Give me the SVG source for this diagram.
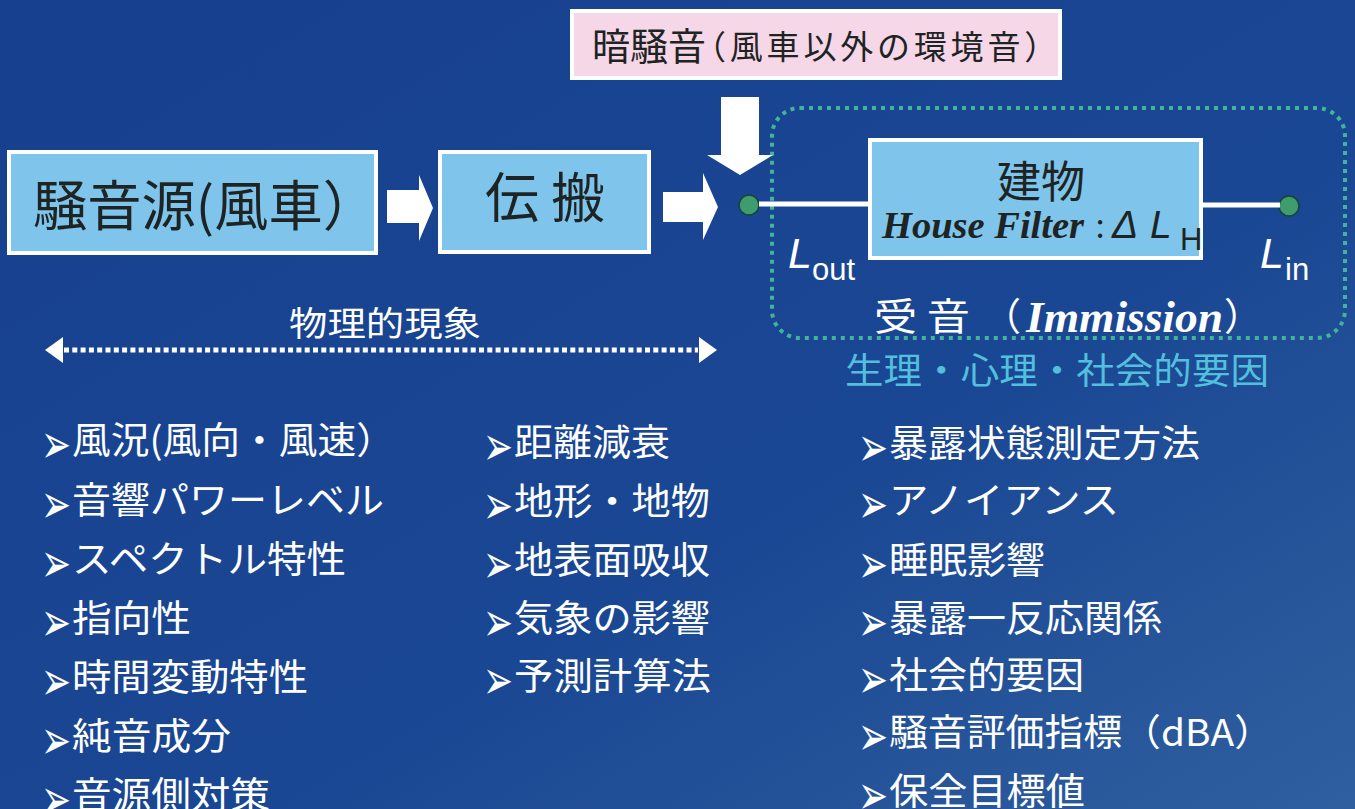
<svg xmlns="http://www.w3.org/2000/svg" width="1355" height="809" viewBox="0 0 1355 809">
<defs>
<linearGradient id="bg" x1="0" y1="0" x2="1" y2="1">
<stop offset="0" stop-color="#17408e"/>
<stop offset="0.6" stop-color="#1a4793"/>
<stop offset="1" stop-color="#2f5f9f"/>
</linearGradient>
<style>
.box{fill:#7fc4ea;stroke:#ffffff;stroke-width:4}
.pink{fill:#f6d7e7;stroke:#ffffff;stroke-width:4}
.jp{font-family:"Noto Sans CJK JP","Noto Sans",sans-serif}
.dark{fill:#1e2424}
.wt{fill:#ffffff}
.li{font-family:"Noto Sans CJK JP","Noto Sans",sans-serif;font-size:37px;fill:#ffffff}
.bul{font-family:"DejaVu Sans",sans-serif;font-size:46px;fill:#ffffff}
.arr{fill:#ffffff}
.dot{fill:#3f9d6d;stroke:#17443a;stroke-width:1.5}
.ln{stroke:#ffffff;stroke-width:5;fill:none}
.it{font-family:"Liberation Sans",Arial,sans-serif;font-style:italic}
.sans{font-family:"Liberation Sans",Arial,sans-serif}
.serif{font-family:"Liberation Serif","Times New Roman",serif}
</style>
</defs>
<rect x="0" y="0" width="1355" height="809" fill="url(#bg)"/>

<g id="background-noise">
<rect class="pink" x="572" y="11" width="488" height="67"/>
<text class="jp dark" x="592" y="60" font-size="38">暗騒音<tspan dx="-13" y="59" font-size="33" letter-spacing="3.8">（風車以外の環境音）</tspan></text>
</g>

<g id="reception-area">
<rect x="772" y="108" width="573" height="230" rx="28" ry="28" fill="none" stroke="#43b39c" stroke-width="4" stroke-dasharray="4 5"/>
</g>

<g id="noise-source">
<rect class="box" x="9" y="152" width="367" height="101"/>
<text class="jp dark" x="33" y="226" font-size="54" textLength="344" lengthAdjust="spacingAndGlyphs">騒音源(風車）</text>
</g>

<g id="propagation">
<rect class="box" x="440" y="152" width="209" height="100"/>
<text class="jp dark" x="485" y="218" font-size="54" textLength="120" lengthAdjust="spacingAndGlyphs">伝 搬</text>
</g>

<g id="building">
<rect class="box" x="870" y="140" width="331" height="118"/>
<text class="jp dark" x="997" y="198" font-size="44">建物</text>
<text class="serif dark" x="882" y="238" font-size="37" font-weight="bold" font-style="italic" textLength="202" lengthAdjust="spacingAndGlyphs">House Filter</text>
<text class="serif dark" x="1095" y="238" font-size="37">:</text>
<text class="it dark" x="1112" y="238" font-size="39">Δ</text>
<text class="it dark" x="1150" y="238" font-size="39">L</text>
<text class="sans dark" x="1180" y="250" font-size="31">H</text>
</g>

<g id="level-out">
<circle class="dot" cx="749" cy="205" r="10"/>
<text class="it wt" x="788" y="268" font-size="43">L</text>
<text class="sans wt" x="812" y="280" font-size="31">out</text>
</g>

<g id="level-in">
<circle class="dot" cx="1289" cy="206" r="10"/>
<text class="it wt" x="1260" y="268" font-size="43">L</text>
<text class="sans wt" x="1285" y="280" font-size="31">in</text>
</g>

<g id="reception-label">
<text class="jp wt" x="874" y="330" font-size="38" textLength="96" lengthAdjust="spacingAndGlyphs">受 音</text>
<text class="jp wt" x="983" y="330" font-size="38">（</text>
<text class="serif wt" x="1026" y="332" font-size="44" font-weight="bold" font-style="italic" textLength="197" lengthAdjust="spacingAndGlyphs">Immission</text>
<text class="jp wt" x="1224" y="330" font-size="38">）</text>
<text class="jp" x="845" y="384" font-size="36" fill="#52bfdc" textLength="424" lengthAdjust="spacingAndGlyphs">生理・心理・社会的要因</text>
</g>

<g id="physical-label">
<text class="jp wt" x="289" y="336" font-size="34" textLength="192" lengthAdjust="spacingAndGlyphs">物理的現象</text>
</g>

<g id="connectors">
<polygon class="arr" points="387,190 419,190 419,175 433,208 419,241 419,223 387,223"/>
<polygon class="arr" points="663,192 703,192 703,173 718,207 703,240 703,222 663,222"/>
<polygon class="arr" points="721,97 759,97 759,155 773,155 740,175 707,155 721,155"/>
<line class="ln" x1="759" y1="204" x2="870" y2="204"/>
<line class="ln" x1="1203" y1="205" x2="1280" y2="205"/>
<line x1="64" y1="350" x2="698" y2="350" stroke="#ffffff" stroke-width="5" stroke-dasharray="5 3.3"/>
<polygon class="arr" points="45,350 63,337 63,363"/>
<polygon class="arr" points="717,350 699,337 699,363"/>
</g>

<g id="list-source">
<text class="bul" transform="translate(41,463) scale(0.78,1.2)">➢</text><text class="li" x="72" y="454" textLength="323" lengthAdjust="spacingAndGlyphs">風況(風向・風速）</text>
<text class="bul" transform="translate(41,523) scale(0.78,1.2)">➢</text><text class="li" x="72" y="514" textLength="312" lengthAdjust="spacingAndGlyphs">音響パワーレベル</text>
<text class="bul" transform="translate(41,582) scale(0.78,1.2)">➢</text><text class="li" x="72" y="573" textLength="274" lengthAdjust="spacingAndGlyphs">スペクトル特性</text>
<text class="bul" transform="translate(41,641) scale(0.78,1.2)">➢</text><text class="li" x="72" y="632" textLength="119" lengthAdjust="spacingAndGlyphs">指向性</text>
<text class="bul" transform="translate(41,700) scale(0.78,1.2)">➢</text><text class="li" x="72" y="691" textLength="236" lengthAdjust="spacingAndGlyphs">時間変動特性</text>
<text class="bul" transform="translate(41,759) scale(0.78,1.2)">➢</text><text class="li" x="72" y="750" textLength="159" lengthAdjust="spacingAndGlyphs">純音成分</text>
<text class="bul" transform="translate(41,818) scale(0.78,1.2)">➢</text><text class="li" x="72" y="809" textLength="198" lengthAdjust="spacingAndGlyphs">音源側対策</text>
</g>

<g id="list-propagation">
<text class="bul" transform="translate(483,465) scale(0.78,1.2)">➢</text><text class="li" x="514" y="456" textLength="156" lengthAdjust="spacingAndGlyphs">距離減衰</text>
<text class="bul" transform="translate(483,524) scale(0.78,1.2)">➢</text><text class="li" x="514" y="515" textLength="196" lengthAdjust="spacingAndGlyphs">地形・地物</text>
<text class="bul" transform="translate(483,583) scale(0.78,1.2)">➢</text><text class="li" x="514" y="574" textLength="196" lengthAdjust="spacingAndGlyphs">地表面吸収</text>
<text class="bul" transform="translate(483,641) scale(0.78,1.2)">➢</text><text class="li" x="514" y="632" textLength="196" lengthAdjust="spacingAndGlyphs">気象の影響</text>
<text class="bul" transform="translate(483,699) scale(0.78,1.2)">➢</text><text class="li" x="514" y="690" textLength="197" lengthAdjust="spacingAndGlyphs">予測計算法</text>
</g>

<g id="list-reception">
<text class="bul" transform="translate(858,466) scale(0.78,1.2)">➢</text><text class="li" x="889" y="457" textLength="311" lengthAdjust="spacingAndGlyphs">暴露状態測定方法</text>
<text class="bul" transform="translate(858,523) scale(0.78,1.2)">➢</text><text class="li" x="889" y="514" textLength="230" lengthAdjust="spacingAndGlyphs">アノイアンス</text>
<text class="bul" transform="translate(858,583) scale(0.78,1.2)">➢</text><text class="li" x="889" y="574" textLength="156" lengthAdjust="spacingAndGlyphs">睡眠影響</text>
<text class="bul" transform="translate(858,641) scale(0.78,1.2)">➢</text><text class="li" x="889" y="632" textLength="273" lengthAdjust="spacingAndGlyphs">暴露一反応関係</text>
<text class="bul" transform="translate(858,698) scale(0.78,1.2)">➢</text><text class="li" x="889" y="689" textLength="195" lengthAdjust="spacingAndGlyphs">社会的要因</text>
<text class="bul" transform="translate(858,755) scale(0.78,1.2)">➢</text><text class="li" x="889" y="746" textLength="384" lengthAdjust="spacingAndGlyphs">騒音評価指標（dBA）</text>
<text class="bul" transform="translate(858,814) scale(0.78,1.2)">➢</text><text class="li" x="889" y="805" textLength="196" lengthAdjust="spacingAndGlyphs">保全目標値</text>
</g>
</svg>
